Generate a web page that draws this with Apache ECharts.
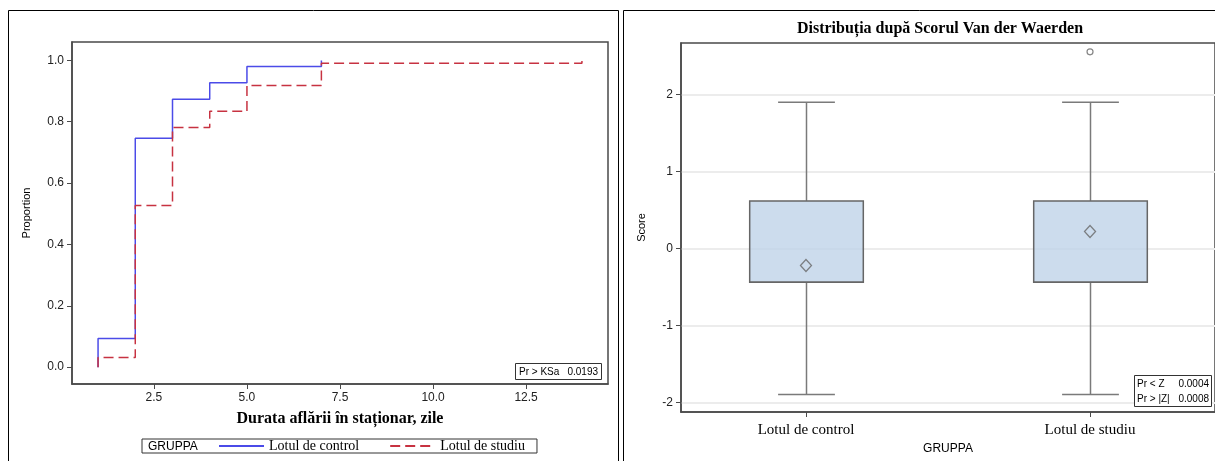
<!DOCTYPE html>
<html>
<head>
<meta charset="utf-8">
<script src="https://cdn.jsdelivr.net/npm/echarts@6/dist/echarts.min.js"></script>
<style>
  html, body { margin: 0; padding: 0; background: #fff; }
  #chart { width: 1215px; height: 461px; }
</style>
</head>
<body>
<div id="chart"></div>
<script>
// ---- Empirical distribution of hospital stay (days) ----
const days = [1, 2, 3, 4, 5, 7, 14];
const edfControl = [0.093, 0.746, 0.873, 0.927, 0.980, 1.000];
const edfStudy = [0.031, 0.527, 0.781, 0.834, 0.918, 0.991, 1.000];
const groupNames = ['Lotul de control', 'Lotul de studiu'];
const dayTicks = [2.5, 5.0, 7.5, 10.0, 12.5];
const proportionTicks = [0, 0.2, 0.4, 0.6, 0.8, 1.0];
const ksTest = ['Pr > KSa', '0.0193'];

// ---- Van der Waerden scores by group ----
// [min whisker, Q1, median, Q3, max whisker]
const scoreBoxControl = [-1.9, -0.438, -0.438, 0.619, 1.9];
const scoreBoxStudy = [-1.9, -0.438, -0.438, 0.619, 1.9];
const scoreMeans = [-0.221, 0.221];
const scoreOutliers = [[1, 2.557]];
const scoreTicks = [-2, -1, 0, 1, 2];
const zTest = [['Pr < Z', '0.0004'], ['Pr > |Z|', '0.0008']];

const SANS = '"Liberation Sans", Arial, sans-serif';
const SERIF = '"Liberation Serif", "Times New Roman", serif';
const FRAME = '#4a4a4a';
const TICK_FONT = { fontFamily: SANS, fontSize: 12, color: '#222' };

// step path of an EDF: starts at 0 on the first observed day
function edfPoints(vals) {
  const pts = [[days[0], 0]];
  vals.forEach((v, i) => pts.push([days[i], v]));
  return pts;
}

const boxData = [scoreBoxControl, scoreBoxStudy].map((b, i) => [i].concat(b));

function axisBase(ticks) {
  return {
    axisLine: { show: true, onZero: false, lineStyle: { color: FRAME, width: 1.5 } },
    axisTick: { show: true, length: 5, customValues: ticks, lineStyle: { color: FRAME } }
  };
}

const chart = echarts.init(document.getElementById('chart'), null, { renderer: 'canvas' });

chart.setOption({
  backgroundColor: '#fff',
  animation: false,
  grid: [
    { left: 72, top: 42, width: 536, height: 342, show: true, borderColor: FRAME, borderWidth: 1.5, backgroundColor: 'transparent' },
    { left: 681, top: 43, width: 536, height: 369, show: true, borderColor: FRAME, borderWidth: 1.5, backgroundColor: 'transparent' }
  ],
  xAxis: [
    Object.assign(axisBase(dayTicks), {
      gridIndex: 0, type: 'value', min: 0.3, max: 14.7,
      name: 'Durata aflării în staționar, zile', nameLocation: 'middle', nameGap: 27,
      nameTextStyle: { fontFamily: SERIF, fontWeight: 'bold', fontSize: 16, color: '#000' },
      axisLabel: Object.assign({ customValues: dayTicks, margin: 8, formatter: v => v.toFixed(1) }, TICK_FONT),
      splitLine: { show: false }
    }),
    Object.assign(axisBase([0, 1]), {
      gridIndex: 1, type: 'value', min: -0.44, max: 1.44,
      name: 'GRUPPA', nameLocation: 'middle', nameGap: 28,
      nameTextStyle: { fontFamily: SANS, fontSize: 12, color: '#000' },
      axisLabel: { customValues: [0, 1], margin: 11, fontFamily: SERIF, fontSize: 15, color: '#000',
                   formatter: v => groupNames[Math.round(v)] },
      splitLine: { show: false }
    })
  ],
  yAxis: [
    Object.assign(axisBase(proportionTicks), {
      gridIndex: 0, type: 'value', min: -0.055, max: 1.06,
      name: 'Proportion', nameLocation: 'middle', nameGap: 40, nameRotate: 90,
      nameTextStyle: { fontFamily: SANS, fontSize: 11, color: '#000' },
      axisLabel: Object.assign({ customValues: proportionTicks, margin: 8, formatter: v => v.toFixed(1) }, TICK_FONT),
      splitLine: { show: false }
    }),
    Object.assign(axisBase(scoreTicks), {
      gridIndex: 1, type: 'value', min: -2.126, max: 2.672,
      name: 'Score', nameLocation: 'middle', nameGap: 34, nameRotate: 90,
      nameTextStyle: { fontFamily: SANS, fontSize: 11, color: '#000' },
      axisLabel: Object.assign({ customValues: scoreTicks, margin: 8, formatter: v => String(Math.round(v)) }, TICK_FONT),
      splitLine: { show: true, lineStyle: { color: '#ececec', width: 2 } }
    })
  ],
  legend: {
    data: groupNames,
    left: 142, top: 439,
    orient: 'horizontal',
    padding: [0, 12, 0, 76],
    itemWidth: 45, itemHeight: 14, itemGap: 30,
    itemStyle: { opacity: 0 },
    borderColor: '#333', borderWidth: 1,
    textStyle: { fontFamily: SERIF, fontSize: 14, color: '#000' }
  },
  series: [
    {
      name: groupNames[0], type: 'line', xAxisIndex: 0, yAxisIndex: 0,
      step: 'end', symbol: 'none', data: edfPoints(edfControl),
      lineStyle: { color: '#4b4be8', width: 1.5 }, itemStyle: { color: '#4b4be8' }
    },
    {
      name: groupNames[1], type: 'line', xAxisIndex: 0, yAxisIndex: 0,
      step: 'end', symbol: 'none', data: edfPoints(edfStudy),
      lineStyle: { color: '#c73241', width: 1.5, type: [10, 5] }, itemStyle: { color: '#c73241' }
    },
    {
      name: 'box', type: 'custom', xAxisIndex: 1, yAxisIndex: 1,
      data: boxData,
      renderItem: function (params, api) {
        const x = api.value(0);
        const lo = api.coord([x, api.value(1)]);
        const q1 = api.coord([x, api.value(2)]);
        const med = api.coord([x, api.value(3)]);
        const q3 = api.coord([x, api.value(4)]);
        const hi = api.coord([x, api.value(5)]);
        const boxW = api.size([0.4, 0])[0];
        const capW = api.size([0.2, 0])[0];
        const cx = Math.round(lo[0]) + 0.5;
        const wStyle = { stroke: '#7a7a7a', lineWidth: 1.5, fill: null };
        return {
          type: 'group',
          children: [
            { type: 'line', shape: { x1: cx, y1: hi[1], x2: cx, y2: q3[1] }, style: wStyle },
            { type: 'line', shape: { x1: cx, y1: q1[1], x2: cx, y2: lo[1] }, style: wStyle },
            { type: 'line', shape: { x1: cx - capW / 2, y1: hi[1], x2: cx + capW / 2, y2: hi[1] }, style: wStyle },
            { type: 'line', shape: { x1: cx - capW / 2, y1: lo[1], x2: cx + capW / 2, y2: lo[1] }, style: wStyle },
            { type: 'rect', shape: { x: cx - boxW / 2, y: q3[1], width: boxW, height: q1[1] - q3[1] },
              style: { fill: 'rgba(190,210,232,0.78)', stroke: '#666', lineWidth: 1.5 } },
            { type: 'line', shape: { x1: cx - boxW / 2, y1: med[1], x2: cx + boxW / 2, y2: med[1] },
              style: { stroke: '#666', lineWidth: 1.5 } }
          ]
        };
      }
    },
    {
      name: 'mean', type: 'scatter', xAxisIndex: 1, yAxisIndex: 1,
      symbol: 'diamond', symbolSize: [11, 12],
      data: scoreMeans.map((m, i) => [i, m]),
      itemStyle: { color: 'rgba(0,0,0,0)', borderColor: '#666', borderWidth: 1.3 }
    },
    {
      name: 'outlier', type: 'scatter', xAxisIndex: 1, yAxisIndex: 1,
      symbol: 'circle', symbolSize: 6,
      data: scoreOutliers,
      itemStyle: { color: 'rgba(0,0,0,0)', borderColor: '#666', borderWidth: 1.2 }
    }
  ],
  graphic: [
    // panel frames
    { type: 'rect', shape: { x: 8.5, y: 10.5, width: 610, height: 470 },
      style: { fill: 'none', stroke: '#000', lineWidth: 1 }, z: 10 },
    { type: 'rect', shape: { x: 623.5, y: 10.5, width: 620, height: 470 },
      style: { fill: 'none', stroke: '#000', lineWidth: 1 }, z: 10 },
    // right panel title
    { type: 'text', x: 940, y: 29,
      style: { text: 'Distribuția după Scorul Van der Waerden', font: 'bold 16px ' + SERIF,
               fill: '#000', textAlign: 'center', textVerticalAlign: 'middle' } },
    // legend heading
    { type: 'text', x: 148, y: 447,
      style: { text: 'GRUPPA', font: '12px ' + SANS, fill: '#000', textVerticalAlign: 'middle' } },
    // KS test inset
    { type: 'rect', shape: { x: 515.5, y: 363.5, width: 86, height: 16 },
      style: { fill: '#fff', stroke: '#333', lineWidth: 1 }, z: 10 },
    { type: 'text', x: 519, y: 372, z: 11,
      style: { text: ksTest[0], font: '10px ' + SANS, fill: '#000', textVerticalAlign: 'middle' } },
    { type: 'text', x: 598, y: 372, z: 11,
      style: { text: ksTest[1], font: '10px ' + SANS, fill: '#000', textAlign: 'right', textVerticalAlign: 'middle' } },
    // Z test inset
    { type: 'rect', shape: { x: 1134.5, y: 375.5, width: 77, height: 31 },
      style: { fill: '#fff', stroke: '#333', lineWidth: 1 }, z: 10 },
    { type: 'text', x: 1137, y: 384, z: 11,
      style: { text: zTest[0][0], font: '10px ' + SANS, fill: '#000', textVerticalAlign: 'middle' } },
    { type: 'text', x: 1209, y: 384, z: 11,
      style: { text: zTest[0][1], font: '10px ' + SANS, fill: '#000', textAlign: 'right', textVerticalAlign: 'middle' } },
    { type: 'text', x: 1137, y: 399, z: 11,
      style: { text: zTest[1][0], font: '10px ' + SANS, fill: '#000', textVerticalAlign: 'middle' } },
    { type: 'text', x: 1209, y: 399, z: 11,
      style: { text: zTest[1][1], font: '10px ' + SANS, fill: '#000', textAlign: 'right', textVerticalAlign: 'middle' } }
  ]
});
</script>
</body>
</html>
